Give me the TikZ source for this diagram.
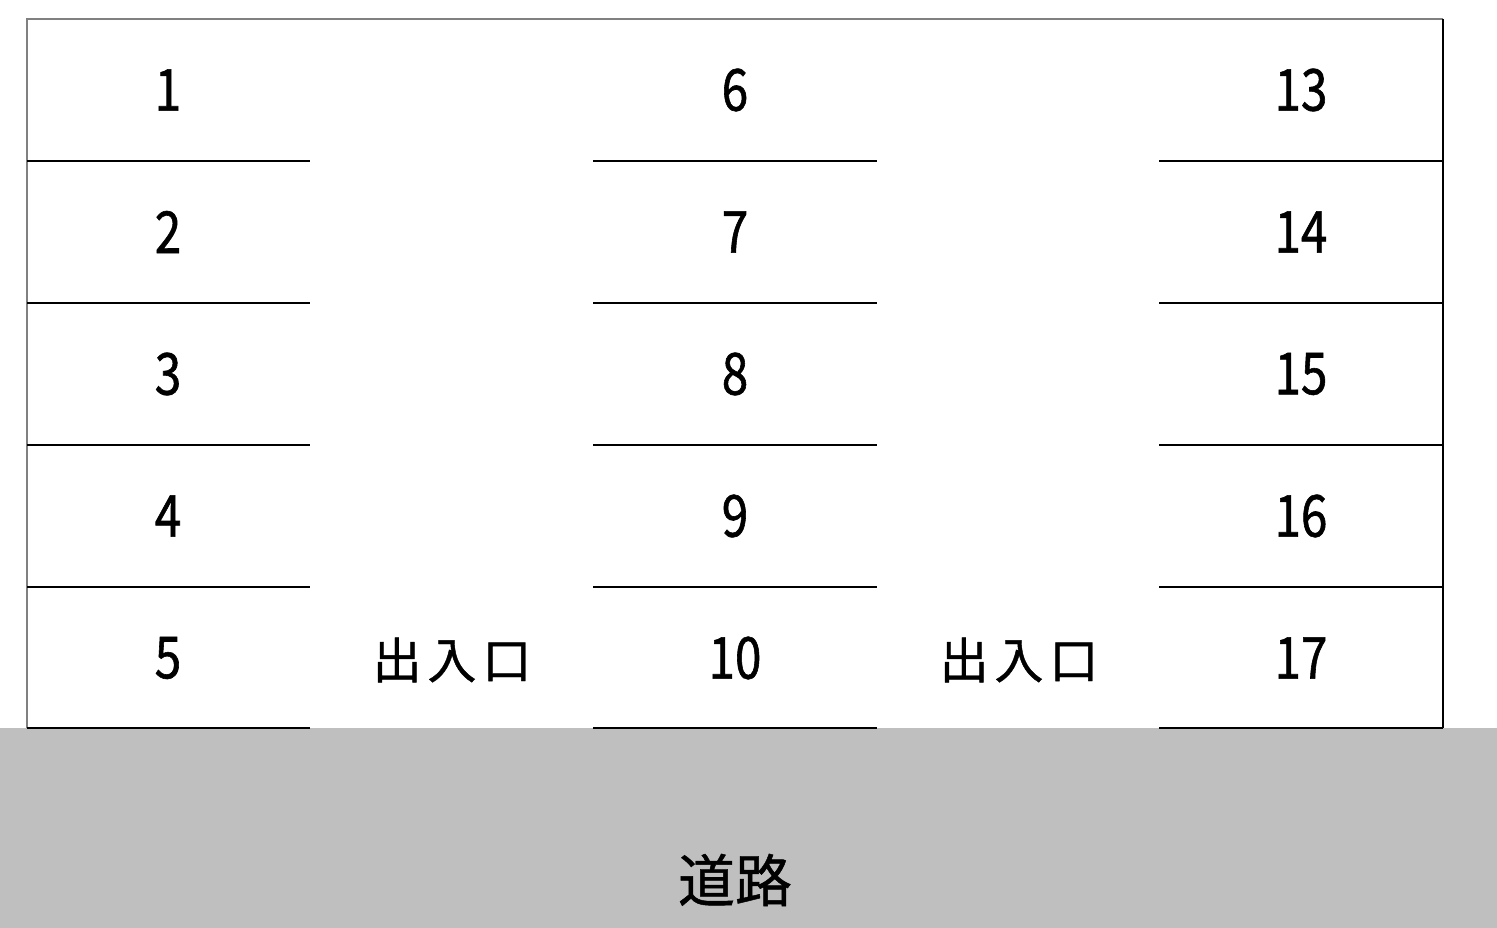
\documentclass[tikz,border=0pt]{standalone}
\usepackage{fontspec}
\usepackage{tikz}
\newfontfamily\jpfont[FakeBold=0.8]{Noto Sans CJK JP}
\newfontfamily\gatefont[LetterSpace=12,FakeBold=0.8]{Noto Sans CJK JP}
\newfontfamily\numfont[FakeStretch=0.82,FakeBold=1]{Noto Sans CJK JP}
\definecolor{roadgray}{gray}{0.75}
\definecolor{rimgray}{gray}{0.5}
\tikzstyle{lot}=[font=\numfont\fontsize{58}{60}\selectfont,inner sep=0pt]
\tikzstyle{gate}=[font=\gatefont\fontsize{49}{52}\selectfont,inner sep=0pt]
\tikzstyle{road}=[font=\jpfont\fontsize{57}{60}\selectfont,inner sep=0pt]
\tikzstyle{line}=[line width=1.3pt]

\begin{document}
\begin{tikzpicture}[x=1pt,y=-1pt]
\useasboundingbox (0,0) rectangle (1497,928);
\fill[roadgray] (0,728) rectangle (1497,928);
\draw[line,rimgray] (27,728) -- (27,19) -- (1443,19);
\draw[line] (1443,19) -- (1443,728);
\draw[line] (27,161) -- (310,161) (593,161) -- (877,161) (1159,161) -- (1443,161);
\draw[line] (27,303) -- (310,303) (593,303) -- (877,303) (1159,303) -- (1443,303);
\draw[line] (27,445) -- (310,445) (593,445) -- (877,445) (1159,445) -- (1443,445);
\draw[line] (27,587) -- (310,587) (593,587) -- (877,587) (1159,587) -- (1443,587);
\draw[line] (27,728) -- (310,728) (593,728) -- (877,728) (1159,728) -- (1443,728);
\node (P1)  [lot] at (168,90)   {1};
\node (P2)  [lot] at (168,232)  {2};
\node (P3)  [lot] at (168,374)  {3};
\node (P4)  [lot] at (168,516)  {4};
\node (P5)  [lot] at (168,658)  {5};
\node (P6)  [lot] at (735,90)   {6};
\node (P7)  [lot] at (735,232)  {7};
\node (P8)  [lot] at (735,374)  {8};
\node (P9)  [lot] at (735,516)  {9};
\node (P10) [lot] at (735,658)  {10};
\node (P13) [lot] at (1301,90)  {13};
\node (P14) [lot] at (1301,232) {14};
\node (P15) [lot] at (1301,374) {15};
\node (P16) [lot] at (1301,516) {16};
\node (P17) [lot] at (1301,658) {17};
\node (G1)  [gate] at (452,660)  {出入口};
\node (G2)  [gate] at (1019,660) {出入口};
\node (R)   [road] at (735,880)  {道路};
\end{tikzpicture}
\end{document}
